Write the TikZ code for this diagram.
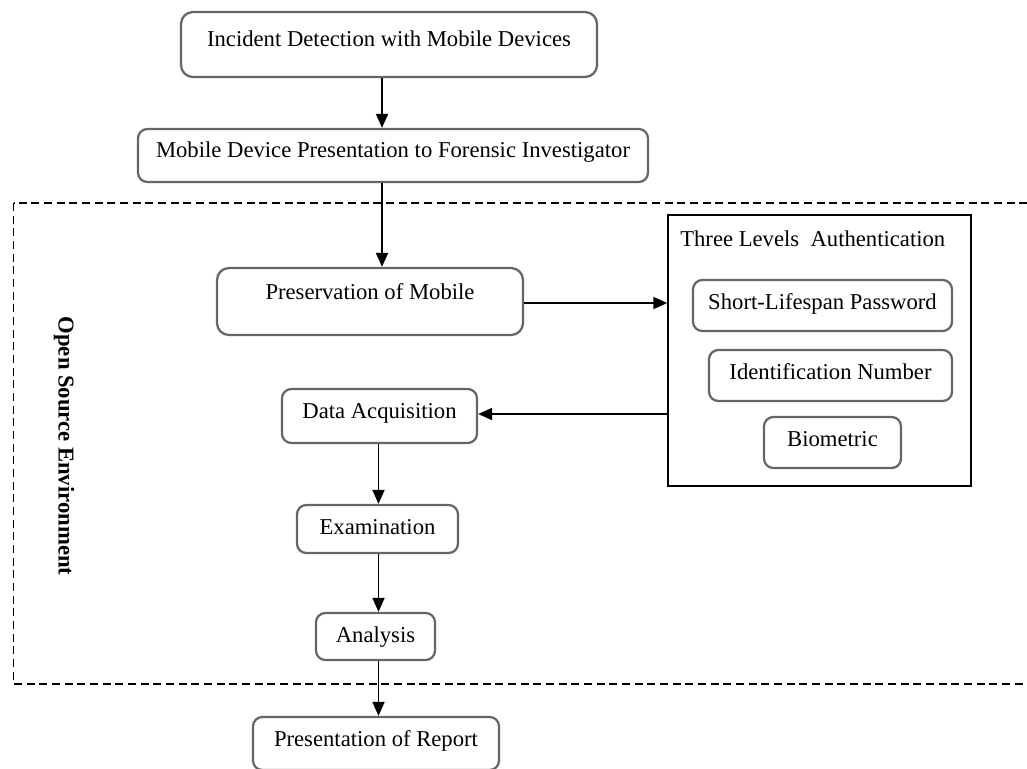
\documentclass[tikz,border=0pt]{standalone}
\usepackage{fontspec}
\setmainfont{Liberation Serif}
\usetikzlibrary{arrows.meta}
\begin{document}
\begin{tikzpicture}[x=0.75pt,y=-0.75pt,
  font=\fontsize{17pt}{20pt}\selectfont,
  rbox/.style={draw=black!60, line width=1.7pt, rounded corners=7pt, inner sep=0pt,
    text height=12pt, text depth=#1},
  rbox/.default=4pt,
  arr/.style={draw=black, line width=1.4pt, -{Triangle[length=10.5pt,width=9pt]}}
]
\useasboundingbox (0,0) rectangle (1027,768);
\clip (0,0) rectangle (1027,768);

% dashed environment frame
\draw[black, line width=1.4pt, dash pattern=on 6pt off 3.5pt] (13.5,203) rectangle (1040,684);
\node[rotate=-90, font=\fontsize{17pt}{20pt}\selectfont\bfseries, inner sep=0pt] (ose) at (64,446) {Open Source Environment};

% main flow boxes
\node[rbox=9.75pt, rounded corners=9pt, minimum width=312pt, minimum height=48.75pt] (b1) at (389,44.5) {Incident Detection with Mobile Devices};
\node[rbox=9pt, minimum width=382.5pt, minimum height=39.75pt] (b2) at (393,155.5) {Mobile Device Presentation to Forensic Investigator};
\node[rbox=15pt, rounded corners=9pt, minimum width=229.5pt, minimum height=50.25pt] (pres) at (370,301.5) {Preservation of Mobile};
\node[rbox=8.25pt, minimum width=146.25pt, minimum height=40.5pt] (da) at (379.5,416) {Data Acquisition};
\node[rbox=4.5pt, minimum width=120.75pt, minimum height=36pt] (exam) at (377.5,529) {Examination};
\node[rbox=3pt, minimum width=89.25pt, minimum height=35.25pt] (ana) at (375.5,636.5) {Analysis};
\node[rbox=8.25pt, minimum width=184.5pt, minimum height=39.75pt] (rep) at (376,743.5) {Presentation of Report};

% authentication group
\node[draw=black, line width=1.1pt, inner sep=0pt, minimum width=227.25pt, minimum height=203.25pt] (auth) at (819.5,350.5) {};
\node[anchor=base west, inner sep=0pt] (authtitle) at (680,246.5) {Three Levels\ \ Authentication};
\node[rbox=6.75pt, minimum width=194.25pt, minimum height=38.25pt] (slp) at (822.5,305.5) {Short-Lifespan Password};
\node[rbox=6.75pt, minimum width=182.25pt, minimum height=38.25pt] (idn) at (830.5,375.5) {Identification Number};
\node[rbox=6.75pt, minimum width=102.75pt, minimum height=38.25pt] (bio) at (832.5,442.5) {Biometric};

% arrow columns
\coordinate (colA) at (382,0);
\coordinate (colB) at (378.5,0);

% connectors
\draw[arr] (b1.south -| colA) -- (b2.north -| colA);
\draw[arr] (b2.south -| colA) -- (pres.north -| colA);
\draw[arr] (pres.east |- 0,303) -- (auth.west |- 0,303);
\draw[arr] (auth.west |- 0,414) -- (da.east |- 0,414);
\draw[arr] (da.south -| colB) -- (exam.north -| colB);
\draw[arr] (exam.south -| colB) -- (ana.north -| colB);
\draw[arr] (ana.south -| colB) -- (rep.north -| colB);
\end{tikzpicture}
\end{document}
